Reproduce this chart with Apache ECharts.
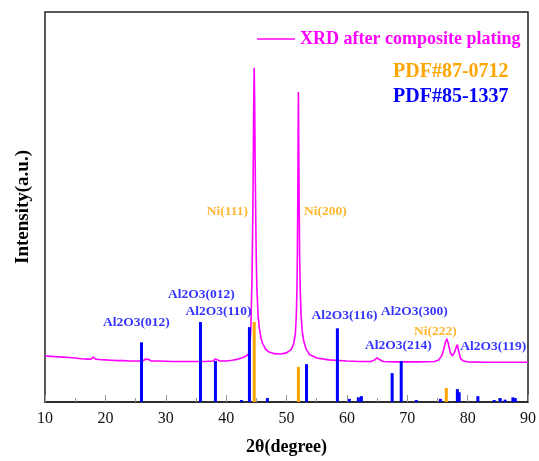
<!DOCTYPE html>
<html>
<head>
<meta charset="utf-8">
<script src="https://cdn.jsdelivr.net/npm/echarts@6/dist/echarts.min.js"></script>
<style>
html,body{margin:0;padding:0;background:#fff;}
#chart{width:539px;height:461px;}
</style>
</head>
<body>
<div id="chart"></div>
<script>
// measured pattern, [2theta, intensity a.u.]
var xrdCurve = [
  [10,11.8],[11,11.7],[12,11.6],[13,11.5],[14,11.4],[15,11.3],[16,11.1],[17,11.0],
  [17.6,11.0],[18.0,11.5],[18.4,11.0],[19,10.9],[20,10.8],[21,10.7],[22,10.6],[23,10.6],
  [24,10.5],[25,10.5],[26.2,10.5],[26.6,11.0],[26.9,11.3],[27.2,10.9],[27.6,10.5],[29,10.5],
  [31,10.4],[33,10.4],[35,10.4],[36.5,10.4],[37.8,10.5],[38.2,11.0],[38.5,10.7],[39,10.5],
  [40,10.5],[41,10.7],[42,11.0],[42.8,11.4],[43.45,11.9],[43.75,12.5],[43.95,14.5],
  [44.1,19],[44.2,26],[44.3,33],[44.4,45],[44.5,62],[44.58,78],[44.65,85.7],[44.72,78],
  [44.8,63],[44.9,48],[45.0,36],[45.1,29],[45.3,22],[45.5,19],[45.75,16.5],[46.05,15.0],
  [46.5,13.6],[47.0,12.9],[48.0,12.4],[49.0,12.3],[50.0,12.6],[50.8,13.5],[51.2,15],
  [51.47,17.5],[51.62,22],[51.72,28],[51.79,36],[51.87,52],[51.92,68],[51.97,79.5],
  [52.02,68],[52.09,52],[52.17,38],[52.27,29],[52.42,22],[52.62,18],[52.87,15.5],
  [53.27,13.5],[53.8,12.2],[55,11.3],[57,10.8],[60,10.5],[62,10.4],[64,10.4],[64.6,10.8],
  [65.0,11.3],[65.4,10.9],[66,10.4],[68,10.3],[70,10.3],[72,10.3],[74.5,10.4],[75.2,10.8],
  [75.7,11.8],[76.0,13.2],[76.3,15.2],[76.55,16.2],[76.8,15.0],[77.1,12.8],[77.45,11.8],
  [77.8,12.6],[78.1,14.0],[78.3,14.7],[78.5,13.2],[78.8,11.2],[79.3,10.5],[80,10.3],
  [83,10.2],[86,10.2],[90,10.2]
];

// PDF#87-0712 (Ni) reference lines
var pdfNi = [[44.65,20.5],[51.97,9.0],[76.47,3.6]];

// PDF#85-1337 (Al2O3) reference lines
var pdfAl2O3 = [
  [25.98,15.3],[35.75,20.5],[38.23,10.5],[42.53,0.5],[43.86,19.2],[46.84,1.0],
  [53.31,9.7],[58.43,18.9],[60.41,0.8],[61.9,1.2],[62.4,1.5],[67.5,7.4],[69.0,10.5],
  [71.5,0.5],[75.5,0.8],[78.3,3.3],[78.6,2.5],[81.7,1.5],[84.4,0.5],[85.4,1.0],
  [86.2,0.6],[87.5,1.2],[87.9,1.0]
];

// peak labels: text, 2theta, intensity
var peakLabels = [
  ['Al2O3(012)',25.15,20.5],
  ['Al2O3(012)',35.91,27.6],
  ['Al2O3(110)',38.73,23.3],
  ['Al2O3(116)',59.6,22.3],
  ['Al2O3(300)',71.18,23.3],
  ['Al2O3(214)',68.53,14.6],
  ['Al2O3(119)',84.26,14.3],
  ['Ni(111)',40.21,48.8],
  ['Ni(200)',56.44,48.8],
  ['Ni(222)',74.65,18.2]
];

var serif = 'Liberation Serif';
var pink = '#ff00ff', orange = '#ffa500', blue = '#0000ff';

function stickItem(params, api) {
  var top = api.coord([api.value(0), api.value(1)]);
  var base = api.coord([api.value(0), 0]);
  return {
    type: 'rect',
    shape: {x: top[0] - 1.5, y: top[1], width: 3, height: base[1] - top[1]},
    style: {fill: api.visual('color')}
  };
}

var chart = echarts.init(document.getElementById('chart'));
chart.setOption({
  animation: false,
  grid: {left: 45, right: 11, top: 12, bottom: 58, show: true, borderColor: '#222', borderWidth: 1.5},
  legend: [
    {data: [{name: 'XRD after composite plating', icon: 'rect'}], left: 252, top: 25,
     itemWidth: 38, itemHeight: 1.6, selectedMode: false,
     textStyle: {color: pink, fontSize: 18, fontWeight: 'bold', fontFamily: serif}},
    {data: [{name: 'PDF#87-0712', icon: 'none'}], left: 383, top: 57, itemWidth: 0,
     selectedMode: false,
     textStyle: {color: orange, fontSize: 20, fontWeight: 'bold', fontFamily: serif}},
    {data: [{name: 'PDF#85-1337', icon: 'none'}], left: 383, top: 82, itemWidth: 0,
     selectedMode: false,
     textStyle: {color: blue, fontSize: 20, fontWeight: 'bold', fontFamily: serif}}
  ],
  xAxis: {
    type: 'value', min: 10, max: 90, interval: 10,
    name: '2\u03b8(degree)', nameLocation: 'middle', nameGap: 36,
    nameTextStyle: {color: '#000', fontSize: 18, fontWeight: 'bold', fontFamily: serif},
    axisLine: {lineStyle: {color: '#222', width: 1.5}},
    axisTick: {inside: true, length: 7, lineStyle: {color: '#999'}},
    minorTick: {show: true, splitNumber: 2, length: 4, lineStyle: {color: '#999'}},
    axisLabel: {color: '#111', fontSize: 16, fontFamily: serif, margin: 9},
    splitLine: {show: false}
  },
  yAxis: {
    type: 'value', min: 0, max: 100,
    name: 'Intensity(a.u.)', nameLocation: 'middle', nameGap: 12,
    nameTextStyle: {color: '#000', fontSize: 19, fontWeight: 'bold', fontFamily: serif},
    axisLine: {show: false}, axisTick: {show: false}, axisLabel: {show: false},
    splitLine: {show: false}
  },
  series: [
    {name: 'XRD after composite plating', type: 'line', data: xrdCurve, symbol: 'none',
     lineStyle: {color: pink, width: 1.6}, itemStyle: {color: pink}, z: 2},
    {name: 'PDF#87-0712', type: 'custom', data: pdfNi, renderItem: stickItem,
     encode: {x: 0, y: 1}, itemStyle: {color: orange}, z: 3},
    {name: 'PDF#85-1337', type: 'custom', data: pdfAl2O3, renderItem: stickItem,
     encode: {x: 0, y: 1}, itemStyle: {color: blue}, z: 3},
    {name: 'labels', type: 'scatter', symbolSize: 0, silent: true, z: 4,
     data: peakLabels.map(function (p) {
       return {name: p[0], value: [p[1], p[2]],
               label: {color: p[0].indexOf('Ni') === 0 ? orange : blue}};
     }),
     label: {show: true, position: 'inside', formatter: '{b}', fontSize: 13.5,
             fontWeight: 'bold', fontFamily: serif}}
  ]
});
</script>
</body>
</html>
